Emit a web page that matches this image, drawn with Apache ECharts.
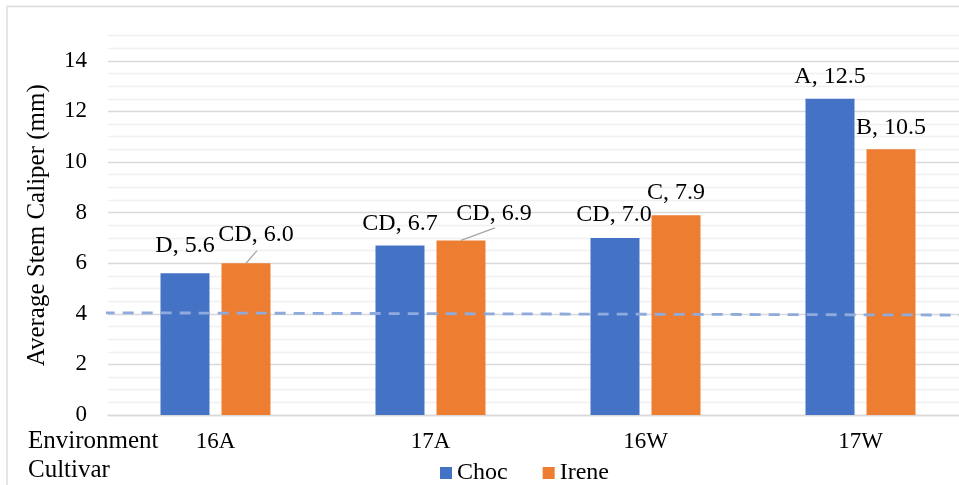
<!DOCTYPE html>
<html>
<head>
<meta charset="utf-8">
<style>
  html, body { margin: 0; padding: 0; background: #fff; }
  #chart { width: 959px; height: 485px; }
</style>
<script src="https://cdn.jsdelivr.net/npm/echarts@6/dist/echarts.min.js"></script>
</head>
<body>
<div id="chart"></div>
<script>
// Environments on the category axis
const environments = ['16A', '17A', '16W', '17W'];

// Mean stem caliper (mm) per cultivar
const chocValues = [5.6, 6.7, 7.0, 12.5];
const ireneValues = [6.0, 6.9, 7.9, 10.5];

// Mean-separation letters shown with each value
const chocLetters = ['D', 'CD', 'CD', 'A'];
const ireneLetters = ['CD', 'CD', 'C', 'B'];

// Dashed reference line: [category position, caliper] at its two ends
const refLineX = [-0.52, 3.465];
const refLineY = [4.04, 3.95];

// Y-axis tick labels
const yTickLabels = [0, 2, 4, 6, 8, 10, 12, 14];

const FONT = '"Liberation Serif", "Times New Roman", serif';
const BAR_WIDTH = 49;
const BAR_GAP = '24.5%';

// Hand-placed labels: [seriesIndex, dataIndex, dx, dy, leader line]
const labelNudges = [
  [0, 0, 0, -6, false],
  [1, 0, 10, -6, true],
  [1, 1, 33, -5, true],
  [0, 2, -1, -1, false]
];

function nudgeFor(s, i) {
  return labelNudges.find(n => n[0] === s && n[1] === i);
}

function labelFormatter(letters) {
  return p => letters[p.dataIndex] + ', ' + p.value.toFixed(1);
}

// Leader lines for moved labels: [category index, bar value, series slot, label dx]
const seriesValues = [chocValues, ireneValues];
const leaderData = labelNudges
  .filter(n => n[4])
  .map(n => [n[1], seriesValues[n[0]][n[1]], n[0], n[2]]);

const chart = echarts.init(document.getElementById('chart'), null, { renderer: 'canvas' });

const barLabel = {
  show: true,
  position: 'top',
  distance: 10,
  color: '#000',
  fontFamily: FONT,
  fontSize: 24
};

function renderLeader(params, api) {
  const layout = api.barLayout({ barWidth: BAR_WIDTH, barGap: BAR_GAP, count: 2 });
  const slot = api.value(2);
  const top = api.coord([api.value(0), api.value(1)]);
  const x0 = top[0] + layout[slot].offsetCenter;
  const y0 = top[1];
  return {
    type: 'line',
    shape: { x1: x0, y1: y0, x2: x0 + api.value(3) + 1, y2: y0 - 12.6 },
    style: { stroke: '#a6a6a6', lineWidth: 1.3 }
  };
}

const option = {
  animation: false,
  backgroundColor: '#fff',
  textStyle: { fontFamily: FONT },
  grid: {
    left: 108, top: 35.5, width: 860, height: 379.5,
    containLabel: false,
    outerBoundsMode: 'none'
  },
  legend: {
    data: ['Choc', 'Irene'],
    left: 435,
    top: 456,
    icon: 'rect',
    itemWidth: 12,
    itemHeight: 12,
    itemGap: 35,
    textStyle: { color: '#000', fontFamily: FONT, fontSize: 24, padding: [2, 0, 0, 0] }
  },
  xAxis: [
    {
      type: 'category',
      data: environments,
      axisLine: { show: true, lineStyle: { color: '#d9d9d9', width: 1.3 } },
      axisTick: { show: false },
      axisLabel: { color: '#000', fontFamily: FONT, fontSize: 23, margin: 15 },
      splitLine: { show: false }
    },
    {
      type: 'value',
      min: -0.5,
      max: 3.5,
      show: false
    }
  ],
  yAxis: {
    type: 'value',
    min: 0,
    max: 15,
    interval: 0.5,
    name: 'Average Stem Caliper (mm)',
    nameLocation: 'middle',
    nameRotate: 90,
    nameGap: 58,
    nameTextStyle: { color: '#000', fontFamily: FONT, fontSize: 25 },
    axisLine: { show: false },
    axisTick: { show: false },
    axisLabel: {
      color: '#000',
      fontFamily: FONT,
      fontSize: 23,
      margin: 21,
      formatter: v => (yTickLabels.indexOf(v) >= 0 ? String(v) : '')
    },
    splitLine: {
      show: true,
      lineStyle: { color: ['#d9d9d9', '#f0f0f0', '#f0f0f0', '#f0f0f0'], width: 1.3 }
    }
  },
  // Moves the crowded labels away from their default spot
  labelLayout: p => {
    const n = nudgeFor(p.seriesIndex, p.dataIndex);
    return n ? { dx: n[2], dy: n[3] } : {};
  },
  series: [
    {
      name: 'Choc',
      type: 'bar',
      data: chocValues,
      barWidth: BAR_WIDTH,
      barGap: BAR_GAP,
      itemStyle: { color: '#4472c4' },
      label: Object.assign({}, barLabel, { formatter: labelFormatter(chocLetters) })
    },
    {
      name: 'Irene',
      type: 'bar',
      data: ireneValues,
      barWidth: BAR_WIDTH,
      barGap: BAR_GAP,
      itemStyle: { color: '#ed7d31' },
      label: Object.assign({}, barLabel, { formatter: labelFormatter(ireneLetters) })
    },
    {
      name: 'Reference',
      type: 'line',
      xAxisIndex: 1,
      data: refLineX.map((x, i) => [x, refLineY[i]]),
      symbol: 'none',
      clip: false,
      silent: true,
      z: 5,
      lineStyle: { color: '#8faadc', width: 2.8, type: [11, 8] }
    },
    {
      name: 'Leaders',
      type: 'custom',
      data: leaderData,
      renderItem: renderLeader,
      clip: false,
      silent: true,
      z: 6
    }
  ],
  graphic: [
    {
      type: 'rect',
      shape: { x: 7, y: 6.5, width: 1000, height: 1000 },
      style: { fill: 'none', stroke: '#d9d9d9', lineWidth: 1.3 },
      silent: true
    },
    {
      type: 'text',
      left: 28,
      top: 429,
      style: { text: 'Environment', fill: '#000', font: '25px ' + FONT }
    },
    {
      type: 'text',
      left: 28,
      top: 458,
      style: { text: 'Cultivar', fill: '#000', font: '25px ' + FONT }
    }
  ]
};

chart.setOption(option);
</script>
</body>
</html>
